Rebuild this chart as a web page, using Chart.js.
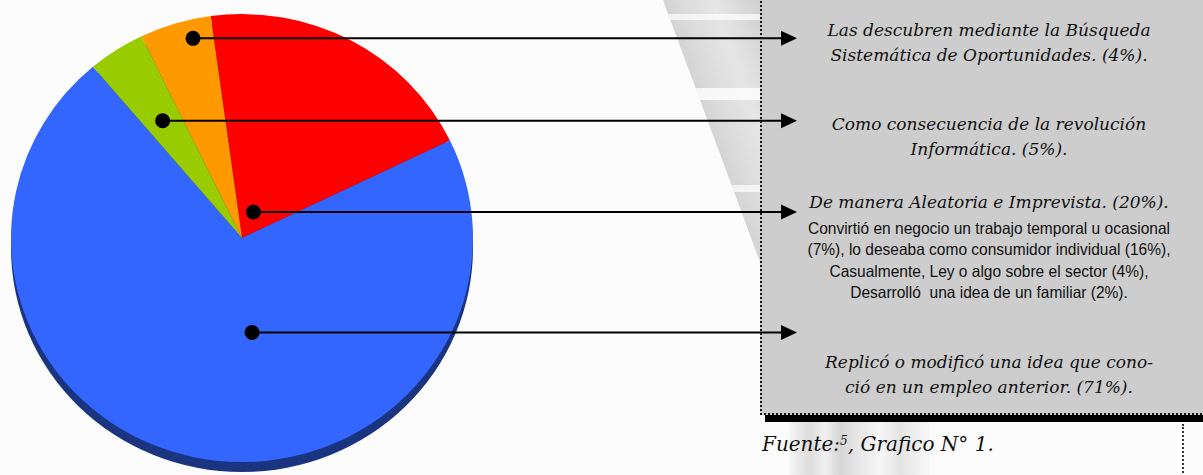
<!DOCTYPE html>
<html>
<head>
<meta charset="utf-8">
<title>Grafico N 1</title>
<script src="https://cdn.jsdelivr.net/npm/chart.js@4.4.1/dist/chart.umd.min.js"></script>
<style>
  html, body { margin: 0; padding: 0; }
  body { width: 1203px; height: 475px; overflow: hidden; position: relative; background: #fcfcfc; }
  .band { position: absolute; left: 660px; top: 0; width: 102px; height: 265px;
          clip-path: polygon(3px 0, 100px 0, 100px 262px);
          background:
            linear-gradient(180deg, transparent 0 14px, rgba(255,255,255,.7) 14px 20px, transparent 20px 88px, rgba(255,255,255,.8) 88px 100px, transparent 100px 185px, rgba(255,255,255,.7) 185px 192px, transparent 192px),
            linear-gradient(70deg, #acacac 0%, #bdbdbd 25%, #d8d8d8 55%, #e6e6e6 75%, #cfcfcf 100%); }
  .pillars { position: absolute; left: 790px; top: 422px; width: 140px; height: 53px;
             background: linear-gradient(90deg, #f4f4f4 0, #dcdcdc 20px, #f0f0f0 35px, #d6d6d6 50px, #e8e8e8 70px, #f6f6f6 90px, #e4e4e4 110px, #f8f8f8 140px); }
  .box { position: absolute; left: 760px; top: -3px; width: 470px; height: 418px; box-sizing: border-box;
         background: #cdcdcd; border: 2px dotted #1a1a1a; box-shadow: 5px 7px 0 #000; }
  .vline { position: absolute; left: 1182px; top: 424px; height: 60px; border-left: 2px dotted #333; }
  .txt { position: absolute; left: 760px; width: 458px; text-align: center; color: #111;
         font-family: "DejaVu Serif", serif; font-style: italic; font-size: 17px; line-height: 25px; white-space: nowrap; }
  .sans { position: absolute; left: 760px; width: 458px; text-align: center; color: #111;
          font-family: "Liberation Sans", Arial, sans-serif; font-size: 16.5px; line-height: 21.5px; white-space: pre;
          transform: scaleX(0.94); transform-origin: 229px 0; }
  .src { position: absolute; left: 762px; top: 432px; color: #111;
         font-family: "DejaVu Serif", serif; font-style: italic; font-size: 20px; line-height: 24px; white-space: nowrap; }
  .src sup { font-size: 12px; vertical-align: 6px; line-height: 0; }
  canvas { position: absolute; left: 0; top: 0; z-index: 2; }
</style>
</head>
<body>
<div class="band"></div>
<div class="pillars"></div>
<div class="box"></div>
<div class="vline"></div>
<div class="txt" style="top:17.6px">Las descubren mediante la Búsqueda<br>Sistemática de Oportunidades. (4%).</div>
<div class="txt" style="top:111.6px">Como consecuencia de la revolución<br>Informática. (5%).</div>
<div class="txt" style="top:189.6px">De manera Aleatoria e Imprevista. (20%).</div>
<div class="sans" style="top:217.5px">Convirtió en negocio un trabajo temporal u ocasional
(7%), lo deseaba como consumidor individual (16%),
Casualmente, Ley o algo sobre el sector (4%),
Desarrolló  una idea de un familiar (2%).</div>
<div class="txt" style="top:349.6px">Replicó o modificó una idea que cono-<br>ció en un empleo anterior. (71%).</div>
<div class="src">Fuente:<sup>5</sup>, Grafico N° 1.</div>
<canvas id="pie" width="1203" height="475"></canvas>
<script>
// slices, clockwise from the red one
const categories = [
    'De manera Aleatoria e Imprevista',
    'Replicó o modificó una idea que conoció en un empleo anterior',
    'Como consecuencia de la revolución Informática',
    'Las descubren mediante la Búsqueda Sistemática de Oportunidades'
];
const values = [20, 71, 4, 5];

const colors = ['#ff0000', '#3366ff', '#99cc00', '#ff9900'];
const SQUASH = 0.97;   // pie is drawn slightly tilted
const DEPTH = 10;      // dark rim under the pie
const ARROW_X = 797;
// where each leader dot sits: fraction along the slice, fraction of radius
const leaders = [
    { f: 0.43, r: 0.126 },
    { f: 0.43, r: 0.424 },
    { f: 0.48, r: 0.626 },
    { f: 0.69, r: 0.916 }
];

const tilt = {
    id: 'tilt',
    beforeDatasetsDraw(chart) {
        const arc = chart.getDatasetMeta(0).data[0];
        const { x, y, outerRadius } = arc.getProps(['x', 'y', 'outerRadius'], true);
        const ctx = chart.ctx;
        ctx.save();
        ctx.translate(x, y);
        ctx.scale(1, SQUASH);
        ctx.translate(-x, -y);
        ctx.fillStyle = '#1b347f';
        ctx.beginPath();
        ctx.arc(x, y + DEPTH / SQUASH, outerRadius, 0, Math.PI * 2);
        ctx.fill();
    },
    afterDatasetsDraw(chart) {
        const ctx = chart.ctx;
        ctx.restore();
        chart.getDatasetMeta(0).data.forEach((arc, i) => {
            const p = arc.getProps(['x', 'y', 'startAngle', 'endAngle', 'outerRadius'], true);
            const a = p.startAngle + leaders[i].f * (p.endAngle - p.startAngle);
            const r = leaders[i].r * p.outerRadius;
            const px = p.x + r * Math.cos(a);
            const py = p.y + r * Math.sin(a) * SQUASH;
            ctx.save();
            ctx.strokeStyle = '#000';
            ctx.fillStyle = '#000';
            ctx.lineWidth = 2;
            ctx.beginPath();
            ctx.moveTo(px, py);
            ctx.lineTo(ARROW_X - 14, py);
            ctx.stroke();
            ctx.beginPath();
            ctx.arc(px, py, 7.5, 0, Math.PI * 2);
            ctx.fill();
            ctx.beginPath();
            ctx.moveTo(ARROW_X, py);
            ctx.lineTo(ARROW_X - 16, py - 7.5);
            ctx.lineTo(ARROW_X - 16, py + 7.5);
            ctx.closePath();
            ctx.fill();
            ctx.restore();
        });
    }
};

new Chart(document.getElementById('pie').getContext('2d'), {
    type: 'pie',
    data: {
        labels: categories,
        datasets: [{
            data: values,
            backgroundColor: colors,
            borderWidth: 0
        }]
    },
    options: {
        responsive: false,
        maintainAspectRatio: false,
        animation: false,
        rotation: -7.8,
        layout: { padding: { left: 11, top: 7, right: 730, bottom: 6 } },
        plugins: {
            legend: { display: false },
            tooltip: { enabled: false }
        }
    },
    plugins: [tilt]
});
</script>
</body>
</html>
